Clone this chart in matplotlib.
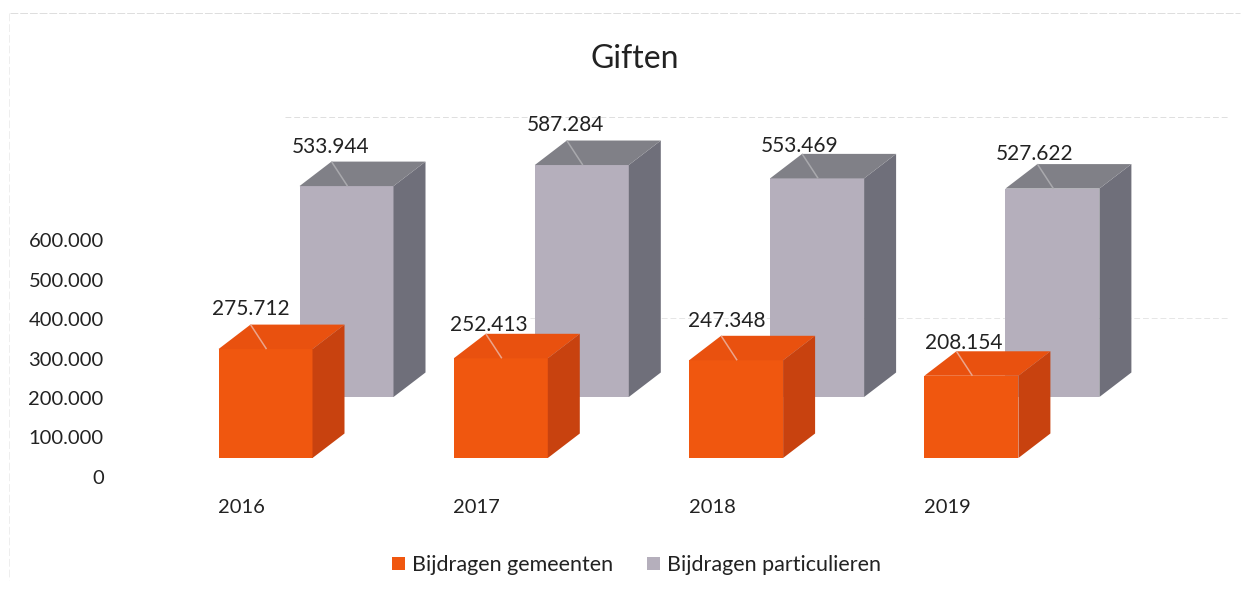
"""Giften: pseudo-3D bars for municipal and private contributions."""
import matplotlib

matplotlib.use("Agg")
import matplotlib.pyplot as plt
from matplotlib.patches import Polygon

years = ["2016", "2017", "2018", "2019"]
gemeenten = [275712, 252413, 247348, 208154]
particulieren = [533944, 587284, 553469, 527622]
yticks = [0, 100000, 200000, 300000, 400000, 500000, 600000]

# depth look of the chart, in axis units
PX_Y = 100000 / 39.5
PX_X = 1 / 235.3
WIDTH = 94 * PX_X
DX = 32 * PX_X
DY = 24.5 * PX_Y
FRONT_FLOOR = 19 * PX_Y
BACK_FLOOR = 80 * PX_Y
BACK_SHIFT = 81 * PX_X

# label nudges per bar, in pixels (x from bar centre, y above the back edge)
nudge_g = [(-15, 16), (-12, 9), (-9, 15), (-8, 8)]
nudge_p = [(-16, 15), (-16, 16), (-17, 8), (-18, 10)]


def fmt(v):
    return f"{v:,}".replace(",", ".")


def box(ax, x, floor, value, front, side, top, leader, z):
    bars = ax.bar(x, value, WIDTH, bottom=floor, color=front, zorder=z, linewidth=0)
    left, right = x - WIDTH / 2, x + WIDTH / 2
    high = floor + value
    ax.add_patch(Polygon([(right, floor), (right + DX, floor + DY), (right + DX, high + DY), (right, high)],
                         color=side, lw=0, zorder=z))
    ax.add_patch(Polygon([(left, high), (left + DX, high + DY), (right + DX, high + DY), (right, high)],
                         color=top, lw=0, zorder=z))
    # small leader line on the top face
    ax.plot([left + DX, left + DX + 16 * PX_X], [high + DY, high], color=leader, lw=1.1, zorder=z + 0.1,
            solid_capstyle="butt")
    return bars


plt.rcParams["font.family"] = ["Lato", "DejaVu Sans"]
fig = plt.figure(figsize=(12.49, 5.96), dpi=100)
ax = fig.add_axes([112 / 1249, 1 - 488 / 596, (1240 - 112) / 1249, (488 - 20) / 596])
ax.set_xlim((112 - 265.5) * PX_X, (1240 - 265.5) * PX_X)
ax.set_ylim(-11 * PX_Y, 457 * PX_Y)
for s in ax.spines.values():
    s.set_visible(False)

# faint scan remains of gridlines
ax.plot([(285 - 265.5) * PX_X, (1230 - 265.5) * PX_X], [360 * PX_Y] * 2, color="#dedede", lw=0.7, ls=(0, (6, 3)), zorder=0)
ax.plot([(530 - 265.5) * PX_X, (1230 - 265.5) * PX_X], [159 * PX_Y] * 2, color="#e6e6e6", lw=0.7, ls=(0, (6, 3)), zorder=0)

h_p = h_g = None
for i in range(len(years)):
    h_p = box(ax, i + BACK_SHIFT, BACK_FLOOR, particulieren[i], "#b5afbc", "#6f6f7a", "#808087", "#a9a9ad", 2)
for i in range(len(years)):
    h_g = box(ax, i, FRONT_FLOOR, gemeenten[i], "#f0570f", "#c8420f", "#e9510f", "#eba58c", 3)

for i in range(len(years)):
    nx, ny = nudge_p[i]
    ax.text(i + BACK_SHIFT + nx * PX_X, BACK_FLOOR + particulieren[i] + DY + ny * PX_Y, fmt(particulieren[i]),
            ha="center", va="center", fontsize=15, color="#222222", zorder=5)
    nx, ny = nudge_g[i]
    ax.text(i + nx * PX_X, FRONT_FLOOR + gemeenten[i] + DY + ny * PX_Y, fmt(gemeenten[i]),
            ha="center", va="center", fontsize=15, color="#222222", zorder=5)

ax.set_yticks(yticks, [fmt(v) for v in yticks])
ax.set_xticks([i - 24 * PX_X for i in range(len(years))], years)
ax.tick_params(length=0, labelsize=14.5, labelcolor="#222222")
ax.tick_params(axis="y", pad=6)
ax.tick_params(axis="x", pad=8)

fig.text(635 / 1249, 1 - 59 / 596, "Giften", ha="center", va="center", fontsize=23, color="#222222")
fig.legend([h_g, h_p], ["Bijdragen gemeenten", "Bijdragen particulieren"], ncol=2, frameon=False,
           loc="center", bbox_to_anchor=(636.5 / 1249, 1 - 565 / 596), fontsize=15.5, labelcolor="#222222",
           handlelength=0.6, handleheight=0.6, columnspacing=1.6, handletextpad=0.33)

# faint frame left over from the scan
fig.add_artist(plt.Line2D([10 / 1249, 1240 / 1249], [1 - 13 / 596] * 2, color="#dddddd", lw=0.7, ls=(0, (8, 2))))
fig.add_artist(plt.Line2D([9 / 1249, 9 / 1249], [1 - 13 / 596, 1 - 580 / 596], color="#eeeeee", lw=0.7, ls=(0, (8, 3))))

fig.savefig("out.png", dpi=100)
plt.close(fig)
